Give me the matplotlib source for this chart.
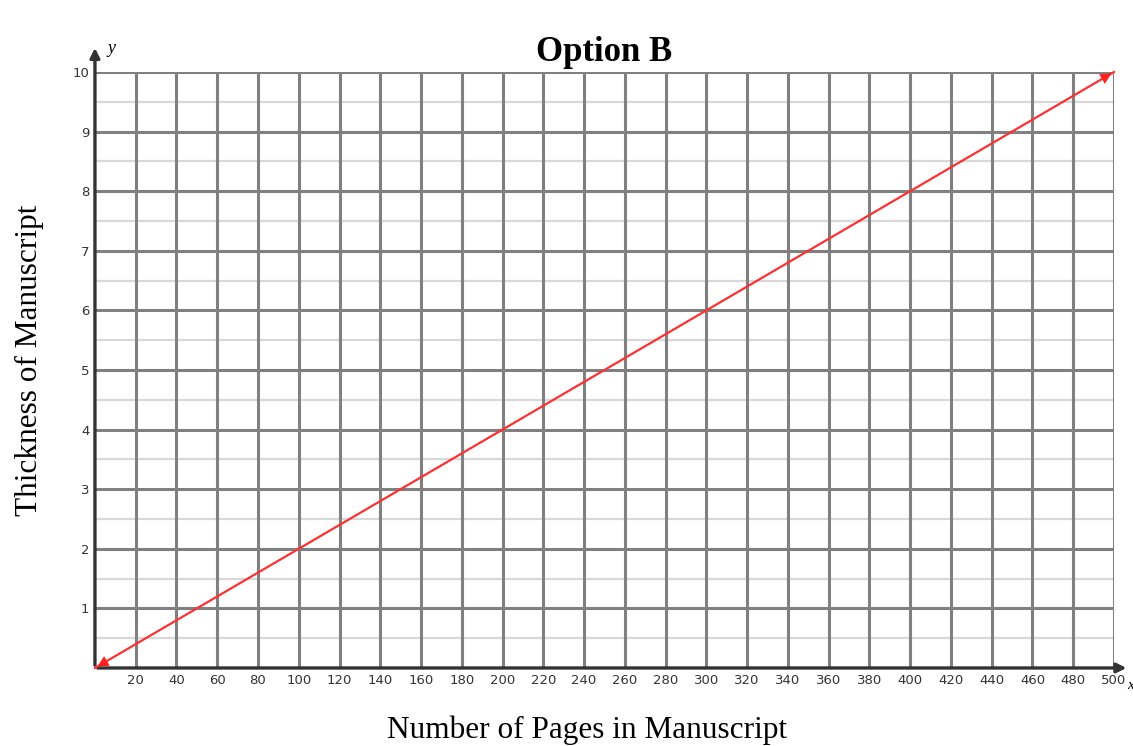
import matplotlib.pyplot as plt
import numpy as np

pages = [0, 500]
thickness = [0, 10]
x_ticks = list(range(20, 501, 20))
y_ticks = list(range(1, 11))

plt.rcParams['font.family'] = ['Liberation Serif', 'DejaVu Serif']

fig = plt.figure(figsize=(11.33, 7.46), dpi=100)
ax = fig.add_axes([0.0838, 0.1046, 0.8994, 0.7989])
ax.set_xlim(0, 500)
ax.set_ylim(0, 10)

# grid
for xv in x_ticks:
    ax.axvline(xv, color='#808080', lw=2.2, zorder=1)
for yv in np.arange(0.5, 10, 1.0):
    ax.axhline(yv, color='#d8d8d8', lw=1.6, zorder=0)
for yv in y_ticks:
    ax.axhline(yv, color='#808080', lw=2.2, zorder=1)

for s in ax.spines.values():
    s.set_visible(False)

# axes with arrows
ax.annotate('', xy=(1.015, 0), xytext=(0, 0), xycoords='axes fraction',
            arrowprops=dict(arrowstyle='-|>', color='#333333', lw=2.4, mutation_scale=14),
            annotation_clip=False, zorder=3)
ax.annotate('', xy=(0, 1.045), xytext=(0, 0), xycoords='axes fraction',
            arrowprops=dict(arrowstyle='-|>', color='#333333', lw=2.4, mutation_scale=14),
            annotation_clip=False, zorder=3)
ax.text(0.012, 1.04, 'y', transform=ax.transAxes, fontsize=13, style='italic',
        ha='left', va='center')
ax.text(1.013, -0.03, 'x', transform=ax.transAxes, fontsize=11, style='italic',
        ha='left', va='center')

# line with arrowheads at both ends
ax.plot(pages, thickness, color='#ff3030', lw=1.6, zorder=4, clip_on=False)
ax.annotate('', xy=(pages[1], thickness[1]), xytext=(pages[1] - 20, thickness[1] - 0.4),
            arrowprops=dict(arrowstyle='-|>', color='#ff2020', lw=0, mutation_scale=20),
            annotation_clip=False, zorder=5)
ax.annotate('', xy=(pages[0], thickness[0]), xytext=(pages[0] + 20, thickness[0] + 0.4),
            arrowprops=dict(arrowstyle='-|>', color='#ff2020', lw=0, mutation_scale=20),
            annotation_clip=False, zorder=5)

ax.set_xticks(x_ticks)
ax.set_yticks(y_ticks)
ax.set_xticklabels([str(v) for v in x_ticks], fontsize=9.5, color='#333333',
                   family=['DejaVu Sans'])
ax.set_yticklabels([str(v) for v in y_ticks], fontsize=9.5, color='#333333',
                   family=['DejaVu Sans'])
ax.tick_params(length=0, pad=4)

ax.set_title('Option B', fontsize=25, fontweight='bold', pad=8)
ax.set_xlabel('Number of Pages in Manuscript', fontsize=22.5)
ax.set_ylabel('Thickness of Manuscript', fontsize=22.5)
ax.xaxis.set_label_coords(0.483, -0.104)
ax.yaxis.set_label_coords(-0.064, 0.517)
ax.xaxis.label.set_va('center')
ax.yaxis.label.set_va('center')

fig.savefig('out.png', dpi=100)
